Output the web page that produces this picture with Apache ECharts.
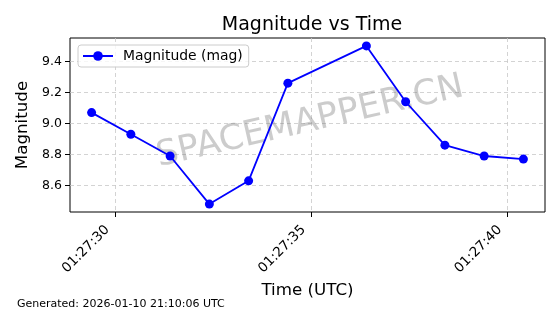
<!DOCTYPE html>
<html>
<head>
<meta charset="utf-8">
<script src="https://cdn.jsdelivr.net/npm/echarts@6/dist/echarts.min.js"></script>
<style>
html,body{margin:0;padding:0;background:#fff;}
#chart{width:560px;height:314px;}
</style>
</head>
<body>
<div id="chart"></div>
<script>
// Data
var times = ["01:27:29.4","01:27:30.4","01:27:31.4","01:27:32.4","01:27:33.4","01:27:34.4",
             "01:27:36.4","01:27:37.4","01:27:38.4","01:27:39.4","01:27:40.4"];
var magnitudes = [9.07, 8.93, 8.79, 8.48, 8.63, 9.26, 9.50, 9.14, 8.86, 8.79, 8.77];
var xTickSeconds = [30, 35, 40];           // 01:27:30, 01:27:35, 01:27:40
var yTickValues = [8.6, 8.8, 9.0, 9.2, 9.4];
var titleText = "Magnitude vs Time";
var seriesName = "Magnitude (mag)";
var xName = "Time (UTC)";
var yName = "Magnitude";
var footerText = "Generated: 2026-01-10 21:10:06 UTC";
var watermarkText = "SPACEMAPPER.CN";

function toSec(t){ var p = t.split(":"); return parseFloat(p[2]) + 60*(parseInt(p[1],10)-27); }
function fmt(v){ var s = Math.round(v); return "01:27:" + (s<10?"0":"") + s; }

var pts = times.map(function(t,i){ return [toSec(t), magnitudes[i]]; });
var xs = pts.map(function(p){return p[0];});
var xmin = Math.min.apply(null,xs), xmax = Math.max.apply(null,xs);
var ymin = Math.min.apply(null,magnitudes), ymax = Math.max.apply(null,magnitudes);
var xpad = (xmax-xmin)*0.05, ypad = (ymax-ymin)*0.05;

var FONT = "DejaVu Sans";
var chart = echarts.init(document.getElementById('chart'), null, {renderer:'canvas'});
chart.setOption({
  animation:false,
  backgroundColor:'#fff',
  textStyle:{fontFamily:FONT},
  title:{
    text:titleText, left:307, top:11, textAlign:'center',
    textStyle:{fontFamily:FONT, fontSize:19, fontWeight:'normal', color:'#000'}
  },
  grid:{left:70, right:15, top:38, bottom:102, show:true, borderColor:'#000', borderWidth:1, backgroundColor:'transparent', containLabel:false},
  legend:{
    left:78, top:45, orient:'vertical',
    backgroundColor:'rgba(255,255,255,0.8)', borderColor:'#cccccc', borderWidth:1, borderRadius:3,
    padding:[4,6,4,4], itemWidth:30, itemHeight:12, itemGap:5,
    textStyle:{fontFamily:FONT, fontSize:13.9, color:'#000', padding:[0,0,0,5]},
    data:[{name:seriesName}]
  },
  xAxis:{
    type:'value', min:xmin-xpad, max:xmax+xpad,
    name:xName, nameLocation:'middle', nameGap:70,
    nameTextStyle:{fontFamily:FONT, fontSize:16.7, color:'#000'},
    axisLine:{show:false},
    axisTick:{show:true, inside:false, length:5, customValues:xTickSeconds, lineStyle:{color:'#000'}},
    axisLabel:{customValues:xTickSeconds, rotate:45, margin:8, padding:[0,11,0,0], fontFamily:FONT, fontSize:13.5, color:'#000', formatter:fmt},
    splitLine:{show:true, lineStyle:{color:'#c8c8c8', type:[4,3], width:0.8}}
  },
  yAxis:{
    type:'value', min:ymin-ypad, max:ymax+ypad,
    name:yName, nameLocation:'middle', nameGap:35, nameRotate:90,
    nameTextStyle:{fontFamily:FONT, fontSize:16.7, color:'#000'},
    axisLine:{show:false},
    axisTick:{show:true, inside:false, length:5, customValues:yTickValues, lineStyle:{color:'#000'}},
    axisLabel:{customValues:yTickValues, margin:8, fontFamily:FONT, fontSize:12.5, color:'#000', formatter:function(v){return v.toFixed(1);}},
    splitLine:{show:true, lineStyle:{color:'#c8c8c8', type:[4,3], width:0.8}}
  },
  graphic:[
    {type:'text', left:17, top:299, z:10,
     style:{text:footerText, fontFamily:FONT, fontSize:11, fill:'#000'}},
    {type:'text', x:310, y:122, rotation:13*Math.PI/180, z:1, silent:true,
     style:{text:watermarkText, fontFamily:FONT, fontSize:35, fill:'rgba(128,128,128,0.4)', align:'center', verticalAlign:'middle'}}
  ],
  series:[{
    name:seriesName, type:'line', data:pts, z:5,
    symbol:'circle', symbolSize:9,
    lineStyle:{color:'#0000ff', width:1.8},
    itemStyle:{color:'#0000ff'}
  }]
});
</script>
</body>
</html>
